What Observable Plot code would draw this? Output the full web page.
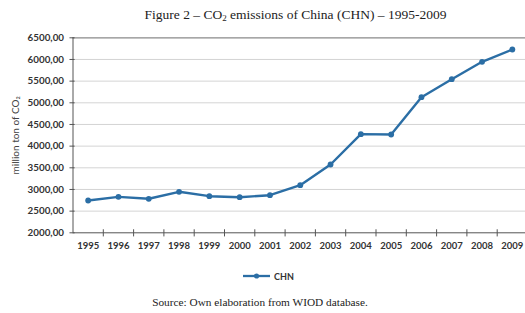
<!DOCTYPE html>
<html>
<head>
<meta charset="utf-8">
<script src="https://cdn.jsdelivr.net/npm/d3@7"></script>
<script src="https://cdn.jsdelivr.net/npm/@observablehq/plot@0.6"></script>
<style>
  html, body { margin: 0; padding: 0; background: #fff; }
  #wrap { position: relative; width: 525px; height: 313px; overflow: hidden; background: #fff; }
  #title { position: absolute; left: 0; width: 591px; top: 7px; text-align: center;
    font-family: "Liberation Serif", serif; font-size: 13.5px; color: #222; white-space: nowrap; }
  #chart { position: absolute; left: 0; top: 0; }
  #legend { position: absolute; left: 243px; top: 269px; height: 14px; display: flex; align-items: center;
    font-family: Lato, sans-serif; font-weight: bold; font-size: 9px; color: #333; }
  #caption { position: absolute; left: 0; width: 520px; top: 296px; text-align: center;
    font-family: "Liberation Serif", serif; font-size: 11.3px; color: #222; white-space: nowrap; }
</style>
</head>
<body>
<div id="wrap">
  <div id="title">Figure 2 – CO<sub style="font-size:9px;vertical-align:-2px;line-height:0">2</sub> emissions of China (CHN) – 1995-2009</div>
  <div id="chart"></div>
  <div id="legend"></div>
  <div id="caption">Source: Own elaboration from WIOD database.</div>
</div>
<script>
const years = [1995,1996,1997,1998,1999,2000,2001,2002,2003,2004,2005,2006,2007,2008,2009];
const chn = [2745,2830,2785,2946,2845,2822,2868,3099,3576,4276,4268,5130,5545,5946,6230];
const yTicks = [2000,2500,3000,3500,4000,4500,5000,5500,6000,6500];
const seriesName = "CHN";
const yLabel = "million ton of CO₂";
const color = "#2B6EA5";

const data = years.map((y, i) => ({year: y, value: chn[i]}));
const boundaries = years.slice(1).map(y => y - 0.5);

const chart = Plot.plot({
  width: 525,
  height: 260,
  marginTop: 37.3,
  marginBottom: 27.7,
  marginLeft: 72.5,
  marginRight: -2,
  style: {fontFamily: "Lato, sans-serif", background: "transparent"},
  x: {domain: [1994.5, 2009.5]},
  y: {domain: [2000, 6500]},
  marks: [
    Plot.gridY(yTicks.filter(d => d > 2000 && d < 6500), {stroke: "#d4d4d4", strokeOpacity: 1, strokeWidth: 1}),
    Plot.ruleY([6500], {stroke: "#8a8a8a", strokeWidth: 1.2}),
    Plot.ruleY([2000], {stroke: "#555", strokeWidth: 1}),
    Plot.ruleX([1994.5], {stroke: "#555", strokeWidth: 1}),
    Plot.ruleY(yTicks, {x1: 1994.4, x2: 1994.57, stroke: "#555"}),
    Plot.ruleX(boundaries, {y1: 1905, y2: 2070, stroke: "#555"}),
    Plot.axisY(yTicks, {tickSize: 0, tickPadding: 9, fontSize: 9.8, fontWeight: "bold", fill: "#333",
      tickFormat: d => d.toFixed(2).replace(".", ","), label: null}),
    Plot.axisX(years, {tickSize: 0, tickPadding: 9, fontSize: 9.5, fontWeight: "bold", fill: "#333",
      tickFormat: d => String(d), label: null}),
    Plot.text([yLabel], {frameAnchor: "left", textAnchor: "middle", dx: -57.5, rotate: -90, fontSize: 10, fill: "#444", text: d => d}),
    Plot.line(data, {x: "year", y: "value", stroke: color, strokeWidth: 2.4}),
    Plot.dot(data, {x: "year", y: "value", r: 2.9, fill: color})
  ]
});
document.getElementById("chart").appendChild(chart);

// legend
const lg = document.getElementById("legend");
lg.innerHTML = `<svg width="28" height="10" style="margin-right:3px"><line x1="0" x2="27" y1="5" y2="5" stroke="${color}" stroke-width="2.3"/><circle cx="13.5" cy="5" r="2.6" fill="${color}"/></svg><span>${seriesName}</span>`;
</script>
</body>
</html>
